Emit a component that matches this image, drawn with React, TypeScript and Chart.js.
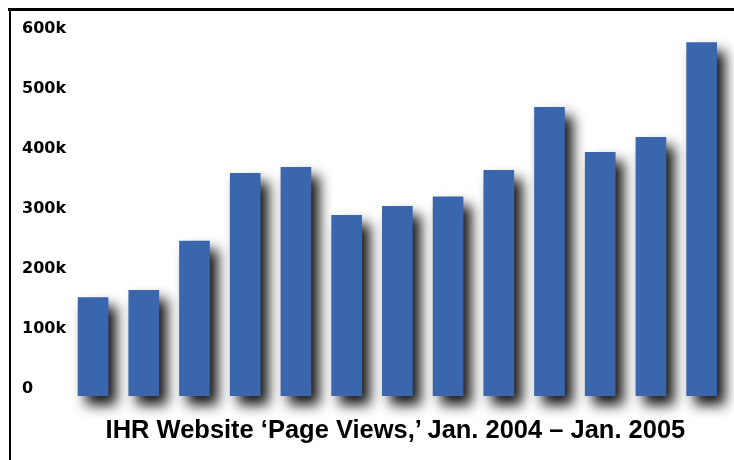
import React, { useEffect, useRef, useState } from "react";
import { Chart, registerables } from "chart.js";

Chart.register(...registerables);

const months = [
  "Jan 2004", "Feb 2004", "Mar 2004", "Apr 2004", "May 2004", "Jun 2004",
  "Jul 2004", "Aug 2004", "Sep 2004", "Oct 2004", "Nov 2004", "Dec 2004", "Jan 2005",
];
const pageViewsK = [153, 165, 247, 360, 370, 290, 305, 321, 365, 470, 395, 420, 578];
const tickValuesK = [0, 100, 200, 300, 400, 500, 600];
const tickLabels = ["0", "100k", "200k", "300k", "400k", "500k", "600k"];
const titleText = "IHR Website \u2018Page Views,\u2019 Jan. 2004 \u2013 Jan. 2005";

const axisMin = -11.67;
const axisMax = 620;
const titleFont = "bold 25px 'Liberation Sans'";
const titleTargetWidth = 581;

const shadowPlugin = {
  id: "barShadow",
  beforeDatasetsDraw(chart: any) {
    const ctx = chart.ctx;
    ctx.save();
    ctx.shadowColor = "rgba(0,0,0,0.92)";
    ctx.shadowBlur = 13;
    ctx.shadowOffsetX = 8;
    ctx.shadowOffsetY = 9;
  },
  afterDatasetsDraw(chart: any) {
    chart.ctx.restore();
  },
};

export default function App() {
  const canvasRef = useRef<HTMLCanvasElement | null>(null);
  const [titleScale, setTitleScale] = useState(0.8);

  useEffect(() => {
    const m = document.createElement("canvas").getContext("2d");
    if (m) {
      m.font = titleFont;
      const w = m.measureText(titleText).width;
      if (w > 0) setTitleScale(titleTargetWidth / w);
    }
  }, []);

  useEffect(() => {
    if (!canvasRef.current) return;
    const chart = new Chart(canvasRef.current, {
      type: "bar",
      data: {
        labels: months,
        datasets: [
          {
            data: pageViewsK,
            backgroundColor: "#3A66AD",
            borderWidth: 0,
            base: axisMin,
            barPercentage: 0.605,
            categoryPercentage: 1,
            clip: false,
          } as any,
        ],
      },
      options: {
        animation: false,
        responsive: true,
        maintainAspectRatio: false,
        layout: { padding: { left: 22, right: 7, top: 17, bottom: 64 } },
        plugins: {
          legend: { display: false },
          title: { display: false },
          tooltip: { enabled: false },
        },
        scales: {
          x: { display: false },
          y: {
            min: axisMin,
            max: axisMax,
            grid: { display: false },
            border: { display: false },
            afterBuildTicks: (axis: any) => {
              axis.ticks = tickValuesK.map((v) => ({ value: v }));
            },
            afterFit: (axis: any) => {
              axis.width = 45.7;
            },
            ticks: {
              crossAlign: "far",
              color: "#000",
              padding: 0,
              font: { family: "'DejaVu Sans'", weight: "bold", size: 16 },
              callback: (value: any) => {
                const i = tickValuesK.indexOf(Number(value));
                return i >= 0 ? tickLabels[i] : "";
              },
            },
          },
        },
      },
      plugins: [shadowPlugin],
    });
    return () => chart.destroy();
  }, []);

  return (
    <div style={{ position: "fixed", left: 0, top: 0, width: 734, height: 460, background: "#fff", overflow: "hidden" }}>
      <div style={{ position: "absolute", left: 0, top: 0, width: 734, height: 460 }}>
        <canvas ref={canvasRef} />
      </div>
      <div style={{ position: "absolute", left: 8, top: 7.5, width: 726, height: 3, background: "#000" }} />
      <div style={{ position: "absolute", left: 8.5, top: 7.5, width: 2.5, height: 453, background: "#000" }} />
      <div
        style={{
          position: "absolute",
          left: 0,
          width: 791,
          top: 414,
          textAlign: "center",
          color: "#000",
          whiteSpace: "nowrap",
        }}
      >
        <span
          style={{
            display: "inline-block",
            font: titleFont,
            lineHeight: "30px",
            transform: `scaleX(${titleScale})`,
            transformOrigin: "center",
          }}
        >
          {titleText}
        </span>
      </div>
    </div>
  );
}
